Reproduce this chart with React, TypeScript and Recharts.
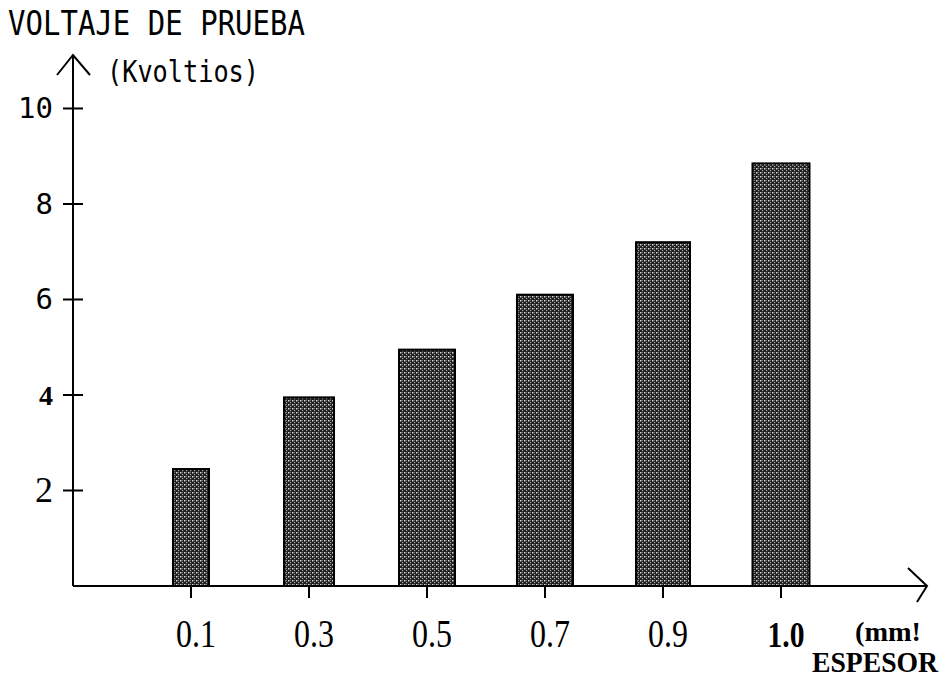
import React from "react";
import { BarChart, Bar, XAxis, YAxis } from "recharts";

// espesor (mm) vs voltaje de prueba (kV)
const espesores = ["0.1", "0.3", "0.5", "0.7", "0.9", "1.0"];
const voltajes = [2.45, 3.95, 4.95, 6.1, 7.2, 8.85];
const yTicks = [2, 4, 6, 8, 10];

const data = espesores.map((e, i) => ({ espesor: e, voltaje: voltajes[i] }));

// the scanned bars are not all equally wide
const BAR_WIDTHS = [36, 50, 56, 56, 54, 57];

const W = 951;
const H = 688;
const AXIS_X = 73;
const AXIS_Y = 586;
const TOP = 55;
const RIGHT = 927;

const serif = "'Liberation Serif', 'Times New Roman', serif";
const mono = "'DejaVu Sans Mono', monospace";

function YTick(props: any) {
  const { x, y, payload } = props;
  const v = payload.value;
  let font = mono;
  let weight: any = "normal";
  let size = 29;
  if (v === 4) {
    font = serif;
    weight = "bold";
    size = 28;
  } else if (v === 2) {
    font = serif;
    size = 36;
  }
  return (
    <g>
      <line x1={x - 10} x2={x + 10} y1={y} y2={y} stroke="#000" strokeWidth={2} />
      <text
        x={x - 20}
        y={y + (v === 2 ? 12 : 10)}
        textAnchor="end"
        fontFamily={font}
        fontWeight={weight}
        fontSize={size}
        fill="#000"
      >
        {v}
      </text>
    </g>
  );
}

function XTick(props: any) {
  const { x, y, payload } = props;
  const bold = payload.value === "1.0";
  return (
    <g>
      <line x1={x} x2={x} y1={y} y2={y + 12} stroke="#000" strokeWidth={2} />
      <text
        x={x + 5}
        y={y + 61}
        textAnchor="middle"
        fontFamily={serif}
        fontWeight={bold ? "bold" : "normal"}
        fontSize={bold ? 36 : 40}
        textLength={bold ? 37 : 40}
        lengthAdjust="spacingAndGlyphs"
        fill="#000"
      >
        {payload.value}
      </text>
    </g>
  );
}

function PatternBar(props: any) {
  const { x, y, width, height, index } = props;
  const w = BAR_WIDTHS[index] ?? width;
  const cx = x + width / 2;
  return (
    <rect
      x={cx - w / 2}
      y={y}
      width={w}
      height={height}
      fill="url(#stipple)"
      stroke="#000"
      strokeWidth={2}
    />
  );
}

export default function App() {
  return (
    <div style={{ position: "absolute", left: 0, top: 0, width: W, height: H, background: "#fff" }}>
      <BarChart
        width={W}
        height={H}
        data={data}
        margin={{ top: TOP, right: W - RIGHT, left: AXIS_X - 60, bottom: H - AXIS_Y - 60 }}
      >
        <defs>
          <pattern id="stipple" width={4} height={4} patternUnits="userSpaceOnUse">
            <rect width={4} height={4} fill="#1e1e1e" />
            <rect x={0} y={0} width={1.5} height={1.5} fill="#d8d8d8" />
            <rect x={2} y={2} width={1.2} height={1.2} fill="#a8a8a8" />
            <rect x={2} y={0} width={1} height={1} fill="#6a6a6a" />
          </pattern>
        </defs>
        <XAxis
          dataKey="espesor"
          height={60}
          padding={{ left: 59, right: 87 }}
          axisLine={{ stroke: "#000", strokeWidth: 2 }}
          tickLine={false}
          tickSize={0}
          tickMargin={0}
          tick={<XTick />}
          interval={0}
        />
        <YAxis
          width={60}
          domain={[0, 11.12]}
          ticks={yTicks}
          allowDataOverflow
          axisLine={{ stroke: "#000", strokeWidth: 2 }}
          tickLine={false}
          tickSize={0}
          tickMargin={0}
          tick={<YTick />}
        />
        <Bar dataKey="voltaje" barSize={56} shape={<PatternBar />} isAnimationActive={false} />
      </BarChart>

      <svg
        width={W}
        height={H}
        style={{ position: "absolute", left: 0, top: 0, pointerEvents: "none" }}
      >
        <text
          x={8}
          y={35}
          fontFamily={mono}
          fontSize={33}
          textLength={297}
          lengthAdjust="spacingAndGlyphs"
          fill="#000"
        >
          VOLTAJE DE PRUEBA
        </text>
        <text
          x={107}
          y={82}
          fontFamily={mono}
          fontSize={31}
          textLength={152}
          lengthAdjust="spacingAndGlyphs"
          fill="#000"
        >
          (Kvoltios)
        </text>
        <polyline
          points={`57,75 ${AXIS_X},${TOP} 90,75`}
          fill="none"
          stroke="#000"
          strokeWidth={2}
        />
        <polyline
          points={`908,568 ${RIGHT},${AXIS_Y} 917,602`}
          fill="none"
          stroke="#000"
          strokeWidth={2}
        />
        <text
          x={855}
          y={641}
          fontFamily={serif}
          fontWeight="bold"
          fontSize={28}
          textLength={66}
          lengthAdjust="spacingAndGlyphs"
          fill="#000"
        >
          (mm!
        </text>
        <text
          x={938}
          y={672}
          textAnchor="end"
          fontFamily={serif}
          fontWeight="bold"
          fontSize={30}
          textLength={126}
          lengthAdjust="spacingAndGlyphs"
          fill="#000"
        >
          ESPESOR
        </text>
      </svg>
    </div>
  );
}
